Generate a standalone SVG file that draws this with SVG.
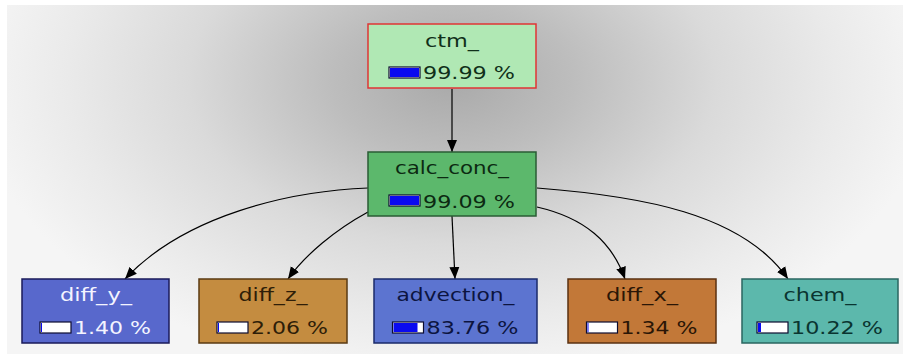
<svg xmlns="http://www.w3.org/2000/svg" width="903" height="354" viewBox="0 0 903 354">
  <defs>
    <radialGradient id="bg" gradientUnits="userSpaceOnUse" cx="452" cy="80" r="480" gradientTransform="translate(0 80) scale(1 0.62) translate(0 -80)">
      <stop offset="0" stop-color="#a9a9a9"/>
      <stop offset="0.25" stop-color="#bdbdbd"/>
      <stop offset="0.55" stop-color="#dadada"/>
      <stop offset="0.8" stop-color="#eaeaea"/>
      <stop offset="1" stop-color="#f5f5f5"/>
    </radialGradient>
    <marker id="arrow" markerWidth="13" markerHeight="11" refX="12" refY="5.5" orient="auto" markerUnits="userSpaceOnUse">
      <path d="M0,0.5 L12,5.5 L0,10.5 Z" fill="#000"/>
    </marker>
  </defs>
  <style>
    .box { stroke-width: 1.5; }
    .title { font-family: "DejaVu Sans", sans-serif; font-size: 18px; text-anchor: middle; }
    .pct { font-family: "DejaVu Sans", sans-serif; font-size: 18px; }
    .bar { fill: #ffffff; stroke: #0c0c30; stroke-width: 1.2; }
    .fillbar { fill: #0a0af0; }
    .edge { fill: none; stroke: #000; stroke-width: 1.2; }
  </style>

  <rect x="7" y="5" width="896" height="349" fill="url(#bg)"/>

  <g id="edges">
    <path class="edge" d="M452,89 L452,152" marker-end="url(#arrow)"/>
    <path class="edge" d="M368,188 C290,191 185,215 125,279" marker-end="url(#arrow)"/>
    <path class="edge" d="M368,212 C335,230 305,255 288,279" marker-end="url(#arrow)"/>
    <path class="edge" d="M452,216 C453,240 454,260 455,279" marker-end="url(#arrow)"/>
    <path class="edge" d="M537,207 C585,218 612,242 625,279" marker-end="url(#arrow)"/>
    <path class="edge" d="M537,188 C640,196 742,213 788,279" marker-end="url(#arrow)"/>
  </g>

  <g id="ctm_">
    <rect class="box" x="368" y="24" width="168" height="64" fill="#b0e8b4" stroke="#e03434"/>
    <text class="title" x="452" y="46.5" fill="#10301a" textLength="54" lengthAdjust="spacingAndGlyphs">ctm_</text>
    <rect class="bar" x="389" y="67" width="31" height="11"/>
    <rect class="fillbar" x="390" y="68" width="29" height="9"/>
    <text class="pct" x="423" y="79" fill="#10301a" textLength="92" lengthAdjust="spacingAndGlyphs">99.99 %</text>
  </g>

  <g id="calc_conc_">
    <rect class="box" x="368" y="152" width="168" height="64" fill="#5cb86c" stroke="#2a5c34"/>
    <text class="title" x="452" y="173.5" fill="#0c2a12" textLength="114" lengthAdjust="spacingAndGlyphs">calc_conc_</text>
    <rect class="bar" x="389" y="195" width="31" height="11"/>
    <rect class="fillbar" x="390" y="196" width="29" height="9"/>
    <text class="pct" x="423" y="207.5" fill="#0c2a12" textLength="92" lengthAdjust="spacingAndGlyphs">99.09 %</text>
  </g>

  <g id="diff_y_">
    <rect class="box" x="22" y="279" width="147" height="64" fill="#5868cc" stroke="#1a1a5a"/>
    <text class="title" x="96" y="301" fill="#f4f4ff" textLength="72" lengthAdjust="spacingAndGlyphs">diff_y_</text>
    <rect class="bar" x="40" y="322" width="31" height="11"/>
    <rect class="fillbar" x="41" y="323" width="1" height="9"/>
    <text class="pct" x="74" y="333.5" fill="#f4f4ff" textLength="77" lengthAdjust="spacingAndGlyphs">1.40 %</text>
  </g>

  <g id="diff_z_">
    <rect class="box" x="199" y="279" width="148" height="64" fill="#c48c40" stroke="#5a3a12"/>
    <text class="title" x="273" y="301" fill="#2e1e08" textLength="69" lengthAdjust="spacingAndGlyphs">diff_z_</text>
    <rect class="bar" x="217" y="322" width="31" height="11"/>
    <rect class="fillbar" x="218" y="323" width="1" height="9"/>
    <text class="pct" x="251" y="333.5" fill="#2e1e08" textLength="77" lengthAdjust="spacingAndGlyphs">2.06 %</text>
  </g>

  <g id="advection_">
    <rect class="box" x="374" y="279" width="163" height="64" fill="#5c74d0" stroke="#1a2a6a"/>
    <text class="title" x="455.5" y="301" fill="#0c1440" textLength="118" lengthAdjust="spacingAndGlyphs">advection_</text>
    <rect class="bar" x="392.5" y="322" width="31" height="11"/>
    <rect class="fillbar" x="393.5" y="323" width="24" height="9"/>
    <text class="pct" x="426.5" y="333.5" fill="#0c1440" textLength="92" lengthAdjust="spacingAndGlyphs">83.76 %</text>
  </g>

  <g id="diff_x_">
    <rect class="box" x="568" y="279" width="148" height="64" fill="#c27838" stroke="#5a3010"/>
    <text class="title" x="642" y="301" fill="#2a1606" textLength="72" lengthAdjust="spacingAndGlyphs">diff_x_</text>
    <rect class="bar" x="586.5" y="322" width="31" height="11"/>
    <rect class="fillbar" x="587.5" y="323" width="1" height="9"/>
    <text class="pct" x="620.5" y="333.5" fill="#2a1606" textLength="77" lengthAdjust="spacingAndGlyphs">1.34 %</text>
  </g>

  <g id="chem_">
    <rect class="box" x="742" y="279" width="156" height="64" fill="#5cb8ac" stroke="#2a6660"/>
    <text class="title" x="820" y="301" fill="#0a3430" textLength="73" lengthAdjust="spacingAndGlyphs">chem_</text>
    <rect class="bar" x="757" y="322" width="31" height="11"/>
    <rect class="fillbar" x="758" y="323" width="3" height="9"/>
    <text class="pct" x="791" y="333.5" fill="#0a3430" textLength="92" lengthAdjust="spacingAndGlyphs">10.22 %</text>
  </g>
</svg>
